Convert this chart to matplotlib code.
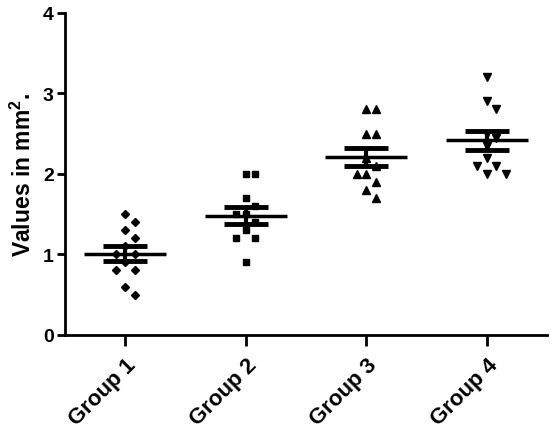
import numpy as np
import matplotlib
matplotlib.use("Agg")
import matplotlib.pyplot as plt

# valores
grupos = ["Group 1", "Group 2", "Group 3", "Group 4"]
g1 = [1.5, 1.4, 1.3, 1.2, 1.1, 1.0, 1.0, 0.9, 0.8, 0.8, 0.6, 0.5]
g2 = [2.0, 2.0, 1.7, 1.6, 1.5, 1.5, 1.4, 1.3, 1.2, 1.2, 0.9]
g3 = [2.8, 2.8, 2.5, 2.5, 2.2, 2.1, 2.0, 2.0, 1.9, 1.8, 1.7]
g4 = [3.2, 2.9, 2.8, 2.5, 2.45, 2.35, 2.2, 2.1, 2.1, 2.0, 2.0]
datos = [g1, g2, g3, g4]
marcas = ["D", "s", "^", "v"]
yticks = [0, 1, 2, 3, 4]

plt.rcParams["font.family"] = ["Liberation Sans", "DejaVu Sans"]
plt.rcParams["font.weight"] = "bold"
plt.rcParams["mathtext.fontset"] = "custom"
plt.rcParams["mathtext.rm"] = "Liberation Sans:bold"
plt.rcParams["mathtext.bf"] = "Liberation Sans:bold"

fig = plt.figure(figsize=(5.5, 4.35), dpi=100)
ax = fig.add_axes([0.118, 0.228, 0.877, 0.74])
ax.set_xlim(0.5, 4.5)
ax.set_ylim(0, 4)

# escala en pixeles para repartir los puntos (tipo beeswarm)
px_x = ax.transData.transform((1, 0))[0] - ax.transData.transform((0, 0))[0]
px_y = ax.transData.transform((0, 1))[1] - ax.transData.transform((0, 0))[1]
d = 9.5  # separacion en px

def repartir(vals):
    vals = np.asarray(vals)
    orden = np.argsort(-vals)
    pos = np.zeros(len(vals))
    puestos = []
    for i in orden:
        yv = vals[i] * px_y
        for k in [0, 1, -1, 2, -2, 3, -3]:
            xv = k * d
            ok = all(np.hypot(xv - px, yv - py) >= d - 0.5 for px, py in puestos)
            if ok:
                break
        puestos.append((xv, yv))
        pos[i] = xv / px_x
    return pos

for i, (vals, m) in enumerate(zip(datos, marcas)):
    xc = i + 1
    vals = np.asarray(vals)
    off = repartir(vals)
    ms = 4.3 if m in ("D", "s") else 5.2
    ax.plot(xc + off, vals, m, color="black", markersize=ms, linestyle="none")
    media = vals.mean()
    sem = vals.std(ddof=1) / np.sqrt(len(vals))
    ax.hlines(media, xc - 0.34, xc + 0.34, color="black", lw=2.5)
    ax.errorbar(xc, media, yerr=sem, color="black", elinewidth=3,
                capsize=16, capthick=3.5, fmt="none")

ax.spines["top"].set_visible(False)
ax.spines["right"].set_visible(False)
ax.spines["left"].set_linewidth(2)
ax.spines["bottom"].set_linewidth(2)

ax.set_yticks(yticks)
ax.set_xticks(range(1, len(grupos) + 1))
ax.set_xticklabels(grupos, rotation=45, ha="right", rotation_mode="anchor",
                   fontsize=16, fontweight="bold")
ax.tick_params(axis="y", length=6, width=2, labelsize=14, pad=2)
ax.tick_params(axis="x", length=8, width=2, pad=6)
ax.set_ylabel(r"Values in mm$^{2}$.", fontsize=16.5, fontweight="bold", labelpad=5)

plt.savefig("out.png")
